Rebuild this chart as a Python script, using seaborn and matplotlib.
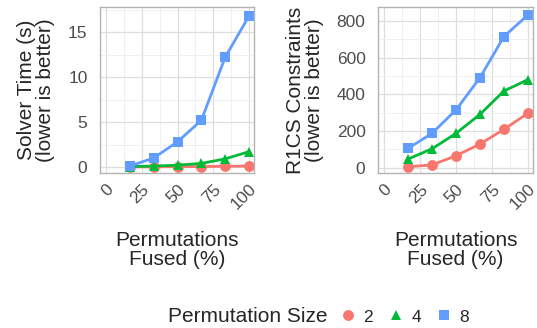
import matplotlib
matplotlib.use("Agg")
import matplotlib.pyplot as plt
from matplotlib.lines import Line2D
from matplotlib.ticker import MultipleLocator
import seaborn as sns
import pandas as pd

fused = [16.7, 33.3, 50.0, 66.7, 83.3, 100.0]
sizes = ["2", "4", "8"]
solver_2 = [0.0, 0.02, 0.03, 0.05, 0.08, 0.1]
solver_4 = [0.05, 0.1, 0.2, 0.4, 0.9, 1.7]
solver_8 = [0.1, 1.0, 2.8, 5.2, 12.2, 16.8]
r1cs_2 = [5, 15, 65, 129, 209, 297]
r1cs_4 = [47, 103, 187, 291, 418, 480]
r1cs_8 = [105, 187, 315, 491, 715, 833]

rows = []
for s, sv, rv in zip(sizes, [solver_2, solver_4, solver_8], [r1cs_2, r1cs_4, r1cs_8]):
    for f, a, b in zip(fused, sv, rv):
        rows.append({"fused": f, "size": s, "solver": a, "r1cs": b})
df = pd.DataFrame(rows)

sns.set_style("white")
plt.rcParams["font.family"] = ["Liberation Sans", "DejaVu Sans"]

palette = {"2": "#F8766D", "4": "#00BA38", "8": "#619CFF"}
markers = {"2": "o", "4": "^", "8": "s"}

W, H = 537, 328
fig = plt.figure(figsize=(W / 100, H / 100), dpi=100)

def px_axes(x0, y0, x1, y1):
    return fig.add_axes([x0 / W, (H - y1) / H, (x1 - x0) / W, (y1 - y0) / H])

ax1 = px_axes(100, 7, 254, 173)
ax2 = px_axes(378, 7, 533, 173)

specs = [
    (ax1, "solver", "Solver Time (s)\n(lower is better)", (-0.67, 17.8), 5),
    (ax2, "r1cs", "R1CS Constraints\n(lower is better)", (-29, 876), 200),
]

for ax, col, ylab, ylim, ymaj in specs:
    sns.lineplot(data=df, x="fused", y=col, hue="size", style="size",
                 palette=palette, markers=markers, dashes=False,
                 linewidth=2.0, markersize=7.8, markeredgewidth=0,
                 ax=ax, legend=False)
    ax.set_xlim(-4.2, 103.5)
    ax.set_ylim(*ylim)
    ax.xaxis.set_major_locator(MultipleLocator(25))
    ax.xaxis.set_minor_locator(MultipleLocator(12.5))
    ax.yaxis.set_major_locator(MultipleLocator(ymaj))
    ax.yaxis.set_minor_locator(MultipleLocator(ymaj / 2))
    ax.grid(True, which="major", color="#DEDEDE", linewidth=0.9)
    ax.grid(True, which="minor", color="#EEEEEE", linewidth=0.6)
    ax.set_axisbelow(True)
    for sp in ax.spines.values():
        sp.set_color("#B3B3B3")
        sp.set_linewidth(1.0)
    ax.tick_params(axis="x", which="major", length=3, width=0.8,
                   color="#B3B3B3", labelsize=12.5, labelcolor="#4D4D4D", pad=3)
    ax.tick_params(axis="y", which="major", length=3, width=0.8,
                   color="#B3B3B3", labelsize=12.5, labelcolor="#4D4D4D", pad=6)
    ax.tick_params(which="minor", length=0)
    for lab in ax.get_xticklabels():
        lab.set_rotation(45)
        lab.set_ha("right")
        lab.set_va("top")
        lab.set_rotation_mode("anchor")
    ax.set_ylabel(ylab, fontsize=15, linespacing=1.0, labelpad=9)
    ax.set_xlabel("Permutations\nFused (%)", fontsize=15, linespacing=1.0, labelpad=13)

fig.text(168 / W, 1 - 317 / H, "Permutation Size", fontsize=15, ha="left", va="center")
handles = [Line2D([], [], color=palette[s], marker=markers[s], linestyle="none",
                  markersize=7.8, markeredgewidth=0) for s in sizes]
fig.legend(handles, sizes, loc="center left", bbox_to_anchor=(339 / W, 1 - 317 / H),
           ncol=3, frameon=False, fontsize=12.5, handlelength=1.0, handletextpad=0.38,
           columnspacing=0.85, borderaxespad=0, borderpad=0)

fig.savefig("out.png", dpi=100)
